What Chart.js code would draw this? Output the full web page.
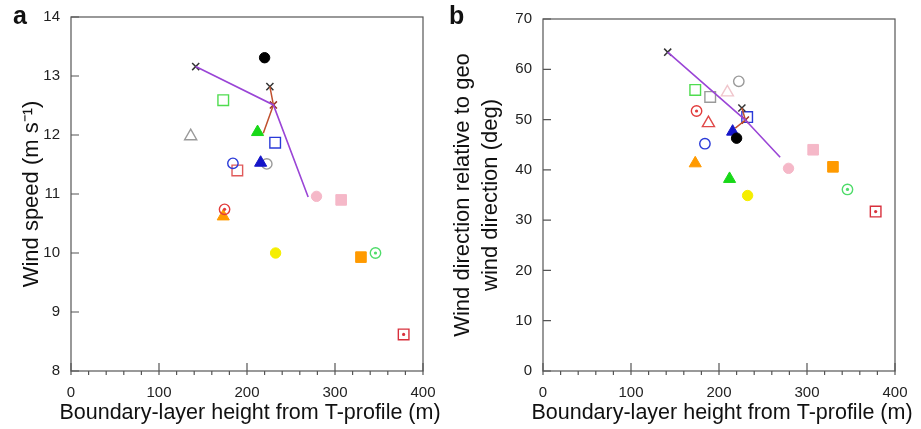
<!DOCTYPE html>
<html>
<head>
<meta charset="utf-8">
<script src="https://cdn.jsdelivr.net/npm/chart.js@4.4.0/dist/chart.umd.min.js"></script>
<style>
  body { margin: 0; background: #fff; width: 921px; height: 429px; position: relative; overflow: hidden; font-family: "Liberation Sans", Arial, sans-serif; }
  .box { position: absolute; top: 0; height: 429px; }
  .tag { position: absolute; top: 1px; font-weight: bold; font-size: 25px; color: #111; z-index: 2; }
</style>
</head>
<body>
<div class="box" style="left:0;width:460px"><canvas id="chartA" width="460" height="429"></canvas></div>
<div class="box" style="left:440px;width:481px"><canvas id="chartB" width="481" height="429"></canvas></div>
<div class="tag" style="left:13px">a</div>
<div class="tag" style="left:449px">b</div>
<script>
// observed sites: boundary-layer height (m), wind speed (m/s), wind direction vs geo wind (deg)
const markerNames = ['black dot', 'green open square', 'gray open triangle', 'blue open square', 'blue open circle',
  'red open square', 'blue triangle', 'gray open circle', 'green triangle', 'pink circle', 'pink square',
  'red ring', 'orange triangle', 'yellow circle', 'orange square', 'green ring', 'red box',
  'pink open triangle', 'gray open square', 'red open triangle'];
const blHeight = [220, 173, 136, 232, 184, 189, 215.5, 222.5, 212, 279, 307, 174.5, 173, 232.5, 329.5, 346, 378, 209.5, 190, 188];
const windSpeed = [13.31, 12.59, 11.98, 11.87, 11.52, 11.4, 11.53, 11.51, 12.05, 10.96, 10.9, 10.74, 10.62, 10.0, 9.93, 10.0, 8.62, null, null, null];
const windDir = [46.3, 55.9, null, 50.5, 45.2, null, 47.6, 57.6, 38.2, 40.3, 44.0, 51.7, 41.3, 34.9, 40.6, 36.1, 31.7, 55.4, 54.5, 49.3];

// model runs (x marks) and the ends of the two connecting lines
const modelHeight = [141.7, 226, 230];
const modelSpeed = [13.16, 12.82, 12.51];
const modelDir = [63.4, 52.3, 49.9];
const purpleEnd = { height: 269.5, speed: 10.95, dir: 42.5 };
const brownEnd = { height: 218.5, speed: 12.03, dir: 48.3 };

const xTicks = [0, 100, 200, 300, 400];
const speedTicks = [8, 9, 10, 11, 12, 13, 14];
const dirTicks = [0, 10, 20, 30, 40, 50, 60, 70];
const xTitle = 'Boundary-layer height from T-profile (m)';

// marker looks, same order as markerNames
const markerShape = ['circle', 'rect', 'triangle', 'rect', 'circle', 'rect', 'triangle', 'circle', 'triangle', 'circle', 'rect',
  'circle', 'triangle', 'circle', 'rect', 'circle', 'rect', 'triangle', 'rect', 'triangle'];
const markerColor = ['#000000', '#4fdc4f', '#9a9a9a', '#2a3ad8', '#2a3ad8', '#e05a5a', '#1515c8', '#9a9a9a', '#18d818', '#f5b8c8', '#f5b8c8',
  '#e23c3c', '#ff9a00', '#f5ee00', '#ff9a00', '#4fdc6a', '#d8303c', '#f0c6cc', '#9a9a9a', '#e04848'];
const markerFilled = [true, false, false, false, false, false, true, false, true, true, true,
  false, true, true, true, false, false, false, false, false];
const markerDot = [false, false, false, false, false, false, false, false, false, false, false,
  true, false, false, false, true, true, false, false, false];

const sizeFor = { circle: 5.2, rect: 7.5, triangle: 7 };

function markerSets(ys) {
  const sets = [];
  markerNames.forEach((name, i) => {
    if (ys[i] == null) return;
    const pt = [{ x: blHeight[i], y: ys[i] }];
    const c = markerColor[i];
    sets.push({
      label: name, data: pt, pointStyle: markerShape[i],
      pointRadius: sizeFor[markerShape[i]],
      backgroundColor: markerFilled[i] ? c : 'rgba(0,0,0,0)',
      borderColor: c, borderWidth: markerFilled[i] ? 1 : 1.4
    });
    if (markerDot[i]) {
      sets.push({ label: name + ' dot', data: pt, pointStyle: 'circle', pointRadius: 1.6, backgroundColor: c, borderColor: c, borderWidth: 0 });
    }
  });
  return sets;
}

function lineSets(ys, endKey) {
  const pts = modelHeight.map((h, i) => ({ x: h, y: ys[i] }));
  return [
    { label: 'purple line', data: [pts[0], pts[2], { x: purpleEnd.height, y: purpleEnd[endKey] }],
      showLine: true, borderColor: '#9a45d6', borderWidth: 1.6, pointRadius: 0 },
    { label: 'brown line', data: [pts[1], pts[2], { x: brownEnd.height, y: brownEnd[endKey] }],
      showLine: true, borderColor: '#c0502e', borderWidth: 1.5, pointRadius: 0 },
    { label: 'model', data: pts, pointStyle: 'crossRot', pointRadius: 5,
      borderColor: ['#333333', '#333333', '#9a3028'], borderWidth: 1.5 }
  ];
}

const font = 'Liberation Sans, Arial, sans-serif';

// box frame, inward major ticks, outward minor x ticks and an unsqueezed x title
const frameTicks = {
  id: 'frameTicks',
  afterDraw(chart) {
    const { ctx, chartArea: a, scales: { x, y } } = chart;
    ctx.save();
    ctx.strokeStyle = '#555';
    ctx.lineWidth = 1.2;
    ctx.strokeRect(a.left, a.top, a.right - a.left, a.bottom - a.top);
    ctx.beginPath();
    x.ticks.forEach(t => {
      const px = x.getPixelForValue(t.value);
      ctx.moveTo(px, a.bottom); ctx.lineTo(px, a.bottom - 8);
    });
    for (let v = x.min; v <= x.max; v += 20) {
      const px = x.getPixelForValue(v);
      ctx.moveTo(px, a.bottom); ctx.lineTo(px, a.bottom + 4);
    }
    y.ticks.forEach(t => {
      const py = y.getPixelForValue(t.value);
      ctx.moveTo(a.left, py); ctx.lineTo(a.left + 8, py);
    });
    ctx.stroke();

    ctx.fillStyle = '#111';
    ctx.font = '21.5px ' + font;
    ctx.textAlign = 'center';
    ctx.textBaseline = 'middle';
    ctx.fillText(xTitle, (a.left + a.right) / 2 + 3, 413);
    ctx.restore();
  }
};

function makeChart(id, datasets, yTicks, yTitle, yTitlePad, yTitleLine, box) {
  return new Chart(document.getElementById(id), {
    type: 'scatter',
    data: { datasets },
    options: {
      responsive: false,
      animation: false,
      events: [],
      layout: { padding: { left: 0, right: box.right, top: box.top, bottom: 0 } },
      plugins: { legend: { display: false }, tooltip: { enabled: false } },
      scales: {
        x: {
          type: 'linear', min: xTicks[0], max: xTicks[xTicks.length - 1],
          afterBuildTicks: s => { s.ticks = xTicks.map(v => ({ value: v })); },
          afterFit: s => { s.height = 58; s.paddingLeft = 0; s.paddingRight = 0; },
          grid: { display: false, drawTicks: false },
          border: { display: false },
          ticks: { padding: 13, color: '#222', font: { family: font, size: 15 } },
          title: { display: false }
        },
        y: {
          type: 'linear', min: yTicks[0], max: yTicks[yTicks.length - 1],
          afterBuildTicks: s => { s.ticks = yTicks.map(v => ({ value: v })); },
          afterFit: s => { s.width = box.left; s.paddingTop = 0; s.paddingBottom = 0; },
          grid: { display: false, drawTicks: false },
          border: { display: false },
          ticks: { padding: 11, color: '#222', font: { family: font, size: 15 } },
          title: { display: true, text: yTitle, color: '#111',
                   padding: { top: yTitlePad, bottom: 0 }, font: { family: font, size: 22, lineHeight: yTitleLine } }
        }
      }
    },
    plugins: [frameTicks]
  });
}

makeChart('chartA', lineSets(modelSpeed, 'speed').concat(markerSets(windSpeed)), speedTicks,
  'Wind speed (m s\u207B\u00B9)', 19, 1.2, { left: 71, right: 37, top: 17 });
makeChart('chartB', lineSets(modelDir, 'dir').concat(markerSets(windDir)), dirTicks,
  ['Wind direction relative to geo', 'wind direction (deg)'], 9, 1.27, { left: 103, right: 26, top: 19 });
</script>
</body>
</html>
